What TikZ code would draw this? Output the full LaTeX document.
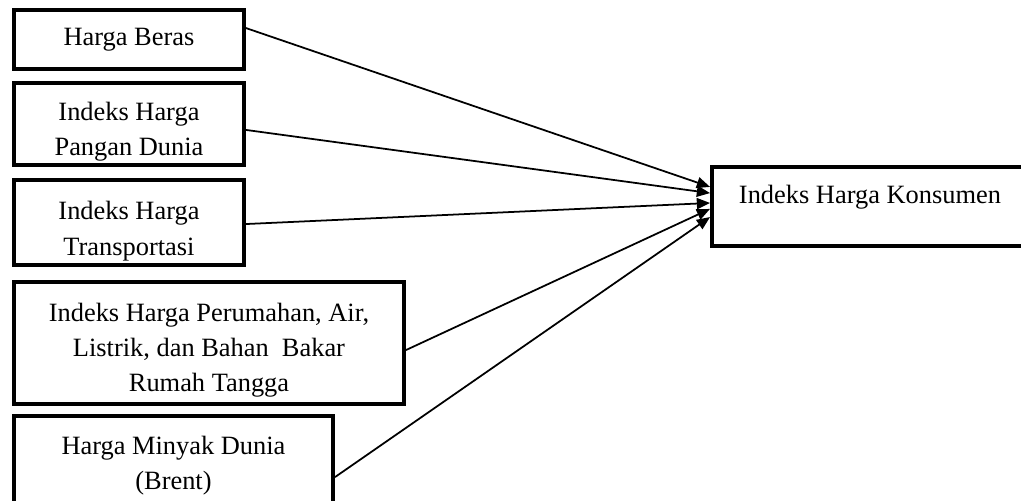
\documentclass[tikz,border=0pt]{standalone}
\usepackage{fontspec}
\setmainfont{Liberation Serif}
\usetikzlibrary{arrows.meta,positioning}

\tikzset{
  varbox/.style={draw, line width=1.8pt, align=center, inner sep=0pt,
    font=\fontsize{12}{16}\selectfont},
  link/.style={-{Triangle[length=6pt,width=5pt]}, line width=0.8pt}
}

\begin{document}
\begin{tikzpicture}[x=0.4545pt, y=-0.4545pt]
    \useasboundingbox (0,0) rectangle (1021,501);

    % independent variables
    \node (beras) [varbox, minimum width=104.5pt, minimum height=26.8pt] at (129,39.5) {Harga Beras};
    \node (pangan) [varbox, minimum width=104.5pt, minimum height=37.3pt, text height=31.6pt] at (129,124) {Indeks Harga\\Pangan Dunia};
    \node (transport) [varbox, minimum width=104.5pt, minimum height=38.6pt, text height=32.2pt] at (129,222.5) {Indeks Harga\\Transportasi};
    \node (perumahan) [varbox, minimum width=177.3pt, minimum height=55.4pt, text height=46.6pt] at (209,343) {Indeks Harga Perumahan, Air,\\Listrik, dan Bahan\ \ Bakar\\Rumah Tangga};
    \node (minyak) [varbox, minimum width=145pt, minimum height=39.5pt, text height=29.6pt] at (173.5,459.5) {Harga Minyak Dunia\\(Brent)};

    % dependent variable
    \node (ihk) [varbox, minimum width=143.6pt, minimum height=35.9pt, text depth=11.5pt] at (870,206.5) {Indeks Harga Konsumen};

    \draw[link] ([yshift=5.2pt]beras.east) -- ([yshift=8.9pt]ihk.west);
    \draw[link] ([yshift=-2.7pt]pangan.east) -- ([yshift=6.1pt]ihk.west);
    \draw[link] ([yshift=-0.7pt]transport.east) -- ([yshift=1.6pt]ihk.west);
    \draw[link] ([yshift=-3.2pt]perumahan.east) -- ([yshift=-1.1pt]ihk.west);
    \draw[link] ([yshift=-8pt]minyak.east) -- ([yshift=-4.8pt]ihk.west);
\end{tikzpicture}
\end{document}
